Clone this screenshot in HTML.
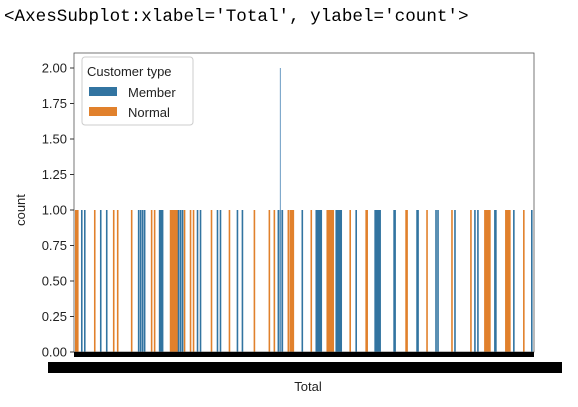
<!DOCTYPE html>
<html><head><meta charset="utf-8"><style>
body{margin:0;background:#fff;width:578px;height:407px;overflow:hidden}
</style></head><body>
<div style="position:absolute;left:4px;top:7px;font:17.6px 'Liberation Mono',monospace;color:#000;white-space:pre">&lt;AxesSubplot:xlabel='Total', ylabel='count'&gt;</div>
<svg id="chart" width="578" height="407" style="position:absolute;left:0;top:0" xmlns="http://www.w3.org/2000/svg"></svg>
<script>
const memberSlots=[7,10,26,32,64,66,68,70,85,86,87,88,104,106,108,123,126,143,146,163,168,204,206,208,228,242,243,244,245,246,247,262,263,264,265,266,267,282,301,302,303,304,305,306,320,321,343,344,362,364,381,401,404,421,422,440,458];
const memberValues=memberSlots.map(()=>1);
const normalSlots=[1,2,3,20,39,43,57,77,80,96,97,98,99,100,101,102,103,110,116,119,137,155,180,195,200,214,216,217,218,219,237,253,254,255,256,257,258,259,276,292,293,333,332,353,378,397,411,412,413,414,415,416,432,433,434,435,436,450];
const normalValues=normalSlots.map(()=>1);
const spikeSlot=[206];const spikeValue=[2];
const yTicks=[0,0.25,0.5,0.75,1.0,1.25,1.5,1.75,2.0];
const nSlots=461;
const svg=document.getElementById('chart');
const NS='http://www.w3.org/2000/svg';
const L=74,R=534,T=53,B=352;
const x=s=>L+(s/nSlots)*(R-L);
const y=v=>B-(v/2)*(B-68);
function mk(t,a){const e=document.createElementNS(NS,t);for(const k in a)e.setAttribute(k,a[k]);svg.appendChild(e);return e;}
function bars(slots,vals,col,nm){slots.forEach((s,i)=>{const r=mk('rect',{x:x(s),y:y(vals[i]),width:1.6,height:B-y(vals[i]),fill:col});

});}
bars(normalSlots,normalValues,'#e1812c','bar-normal');
bars(memberSlots,memberValues,'#3274a1','bar-member');
spikeSlot.forEach((s,i)=>{const r=mk('rect',{x:x(s)+0.3,y:y(spikeValue[i]),width:1,height:B-y(spikeValue[i]),fill:'#6a9cc4'});

});
const fr=mk('rect',{x:L,y:T,width:R-L,height:B-T,fill:'none',stroke:'#555','stroke-width':0.8});


const tb=mk('rect',{x:L,y:B,width:R-L,height:5,fill:'#000'});


const lb=mk('rect',{x:48,y:362,width:514,height:11,fill:'#000'});


yTicks.forEach(v=>{const tk=mk('line',{x1:L-4,x2:L,y1:y(v),y2:y(v),stroke:'#333'});


const t=mk('text',{x:L-7,y:y(v)+4.5,'text-anchor':'end','font-family':'Liberation Sans, sans-serif','font-size':'13',fill:'#222'});


t.textContent=v.toFixed(2);});
const xt=mk('text',{x:308,y:391,'text-anchor':'middle','font-family':'Liberation Sans, sans-serif','font-size':'13',fill:'#222'});


xt.textContent='Total';
const yt=mk('text',{x:25,y:210,'text-anchor':'middle','font-family':'Liberation Sans, sans-serif','font-size':'13',fill:'#222',transform:'rotate(-90 25 210)'});


yt.textContent='count';
const lg=mk('rect',{x:82,y:57,width:111,height:68,rx:3,fill:'#fff','fill-opacity':0.85,stroke:'#ccc'});


const ltt=mk('text',{x:87,y:76,'font-family':'Liberation Sans, sans-serif','font-size':'13',fill:'#222'});


ltt.textContent='Customer type';
[['Member','#3274a1',87],['Normal','#e1812c',107]].forEach(([n,c,yy])=>{
const p=mk('rect',{x:89,y:yy,width:28,height:9,fill:c});


const t=mk('text',{x:128,y:yy+10,'font-family':'Liberation Sans, sans-serif','font-size':'13',fill:'#222'});


t.textContent=n;});
</script>
</body></html>
